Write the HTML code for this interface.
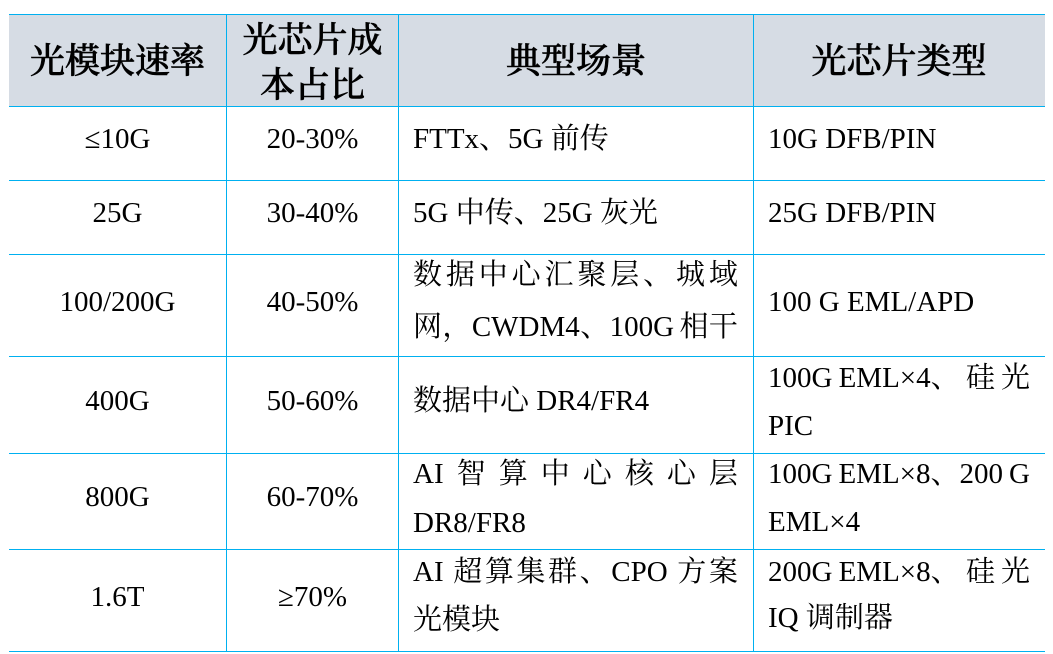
<!DOCTYPE html>
<html>
<head>
<meta charset="utf-8">
<style>
  html,body{margin:0;padding:0;background:#fff;}
  #c{position:relative;width:1053px;height:654px;overflow:hidden;background:#fff;}
  .hbg{position:absolute;left:9px;top:14px;width:1036px;height:92px;background:#d6dce4;}
  .h{position:absolute;left:9px;width:1036px;height:1px;background:#00b0f0;}
  .v{position:absolute;top:14px;width:1px;height:638px;background:#00b0f0;}
  .t{position:absolute;height:40px;line-height:40px;font-size:29px;color:#000;white-space:nowrap;
     font-family:"Liberation Serif","Noto Serif CJK SC",serif;}
  .hd{position:absolute;height:40px;line-height:40px;font-size:35px;color:#000;white-space:nowrap;
     font-family:"Liberation Serif","Noto Serif CJK SC",serif;font-weight:500;text-align:center;
     -webkit-text-stroke:0.6px #000;}
  .c1{left:9px;width:217px;text-align:center;}
  .c2{left:226px;width:173px;text-align:center;}
  .c3{left:413px;}
  .c4{left:768px;}
  .j3{left:413px;width:325px;display:flex;justify-content:space-between;}
  .j4{left:768px;width:262px;display:flex;justify-content:space-between;}
  .j3 span,.j4 span{white-space:nowrap;}
  .sp{padding-right:7px;}
</style>
</head>
<body>
<div id="c">
  <div class="hbg"></div>

  <!-- horizontal lines -->
  <div class="h" style="top:14px"></div>
  <div class="h" style="top:106px"></div>
  <div class="h" style="top:180px"></div>
  <div class="h" style="top:254px"></div>
  <div class="h" style="top:356px"></div>
  <div class="h" style="top:453px"></div>
  <div class="h" style="top:549px"></div>
  <div class="h" style="top:651px"></div>

  <!-- vertical lines -->
  <div class="v" style="left:226px"></div>
  <div class="v" style="left:398px"></div>
  <div class="v" style="left:753px"></div>

  <!-- header -->
  <div class="hd" style="left:9px;width:217px;top:42px;">光模块速率</div>
  <div class="hd" style="left:226px;width:173px;top:21px;">光芯片成</div>
  <div class="hd" style="left:226px;width:173px;top:66px;">本占比</div>
  <div class="hd" style="left:399px;width:354px;top:42px;">典型场景</div>
  <div class="hd" style="left:753px;width:292px;top:42px;">光芯片类型</div>

  <!-- column 1 -->
  <div class="t c1" style="top:119px">≤10G</div>
  <div class="t c1" style="top:193px">25G</div>
  <div class="t c1" style="top:282px">100/200G</div>
  <div class="t c1" style="top:381px">400G</div>
  <div class="t c1" style="top:477px">800G</div>
  <div class="t c1" style="top:577px">1.6T</div>

  <!-- column 2 -->
  <div class="t c2" style="top:119px">20-30%</div>
  <div class="t c2" style="top:193px">30-40%</div>
  <div class="t c2" style="top:282px">40-50%</div>
  <div class="t c2" style="top:381px">50-60%</div>
  <div class="t c2" style="top:477px">60-70%</div>
  <div class="t c2" style="top:577px">≥70%</div>

  <!-- column 3 -->
  <div class="t c3" style="top:119px">FTTx、5G 前传</div>
  <div class="t c3" style="top:193px">5G 中传、25G 灰光</div>
  <div class="t j3" style="top:255px"><span>数</span><span>据</span><span>中</span><span>心</span><span>汇</span><span>聚</span><span>层</span><span>、</span><span>城</span><span>域</span></div>
  <div class="t j3" style="top:307px"><span>网</span><span>，</span><span>CWDM4</span><span>、</span><span style="padding-right:5px">100G</span><span>相</span><span>干</span></div>
  <div class="t c3" style="top:381px">数据中心 DR4/FR4</div>
  <div class="t j3" style="top:454px"><span>AI</span><span>智</span><span>算</span><span>中</span><span>心</span><span>核</span><span>心</span><span>层</span></div>
  <div class="t c3" style="top:503px">DR8/FR8</div>
  <div class="t j3" style="top:552px"><span class="sp">AI</span><span>超</span><span>算</span><span>集</span><span>群</span><span>、</span><span class="sp">CPO</span><span>方</span><span>案</span></div>
  <div class="t c3" style="top:600px">光模块</div>

  <!-- column 4 -->
  <div class="t c4" style="top:119px">10G DFB/PIN</div>
  <div class="t c4" style="top:193px">25G DFB/PIN</div>
  <div class="t c4" style="top:282px">100 G EML/APD</div>
  <div class="t j4" style="top:358px"><span>100G</span><span>EML×4、</span><span>硅</span><span>光</span></div>
  <div class="t c4" style="top:406px">PIC</div>
  <div class="t j4" style="top:454px"><span>100G</span><span>EML×8、200</span><span>G</span></div>
  <div class="t c4" style="top:502px">EML×4</div>
  <div class="t j4" style="top:552px"><span>200G</span><span>EML×8、</span><span>硅</span><span>光</span></div>
  <div class="t c4" style="top:598px">IQ 调制器</div>
</div>
</body>
</html>
